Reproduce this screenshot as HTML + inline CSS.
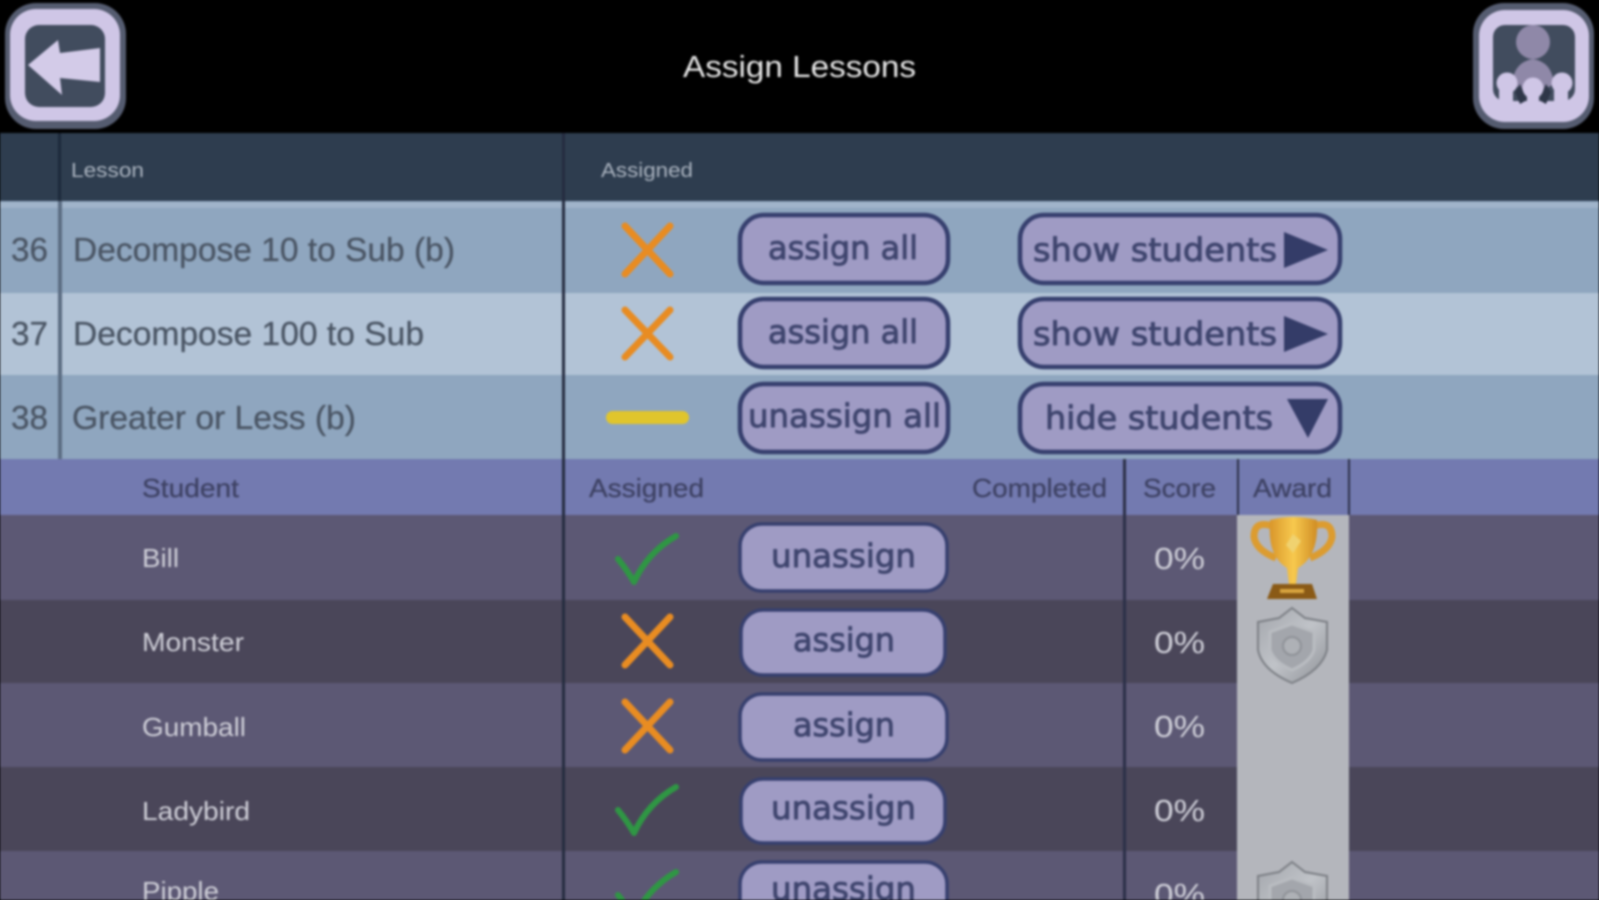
<!DOCTYPE html>
<html lang="en"><head><meta charset="utf-8"><title>Assign Lessons</title>
<style>
html,body{margin:0;padding:0;background:#000;width:1599px;height:900px;overflow:hidden}
svg{display:block;filter:blur(1.1px)}
text{font-family:"Liberation Sans",sans-serif}
.r{font-size:33px;fill:#4a5564;stroke:#4a5564;stroke-width:.3}
.sh{font-size:26px;fill:#3e4264;stroke:#3e4264;stroke-width:.3}
.s{font-size:26px;fill:#cfcfd8}
.p{font-size:31px;fill:#cfcfd8}
.b{font-family:"DejaVu Sans",sans-serif;font-size:32px;fill:#3f456e;stroke:#3f456e;stroke-width:.9}
.btn{fill:#9f9bc4;stroke:#363f6e;stroke-width:4.5}
.sb{fill:#9f9bc4;stroke:#363f6e;stroke-width:3.5}
.x{fill:none;stroke:#e88c22;stroke-width:7;stroke-linecap:round}
.c{fill:none;stroke:#2f9644;stroke-linecap:round;stroke-linejoin:round;stroke-width:6}
</style></head><body>
<svg xmlns="http://www.w3.org/2000/svg" width="1599" height="900" viewBox="0 0 1599 900">
<defs>
<linearGradient id="gold" x1="0" x2="1" y1="0" y2="0"><stop offset="0" stop-color="#d9962a"/><stop offset=".5" stop-color="#f7c94e"/><stop offset="1" stop-color="#d08d24"/></linearGradient>
<linearGradient id="sil" x1="0" x2="1" y1="0" y2="1"><stop offset="0" stop-color="#a3a6ac"/><stop offset=".5" stop-color="#c0c3c8"/><stop offset="1" stop-color="#8f9298"/></linearGradient>
<g id="shield"><path d="M1292 608 L1305 618 L1327 622 L1327 650 Q1322 670 1292 683 Q1262 670 1258 650 L1258 622 L1279 618 Z" fill="url(#sil)" stroke="#7d8086" stroke-width="2"/><path d="M1292 624 L1314 632 L1314 650 Q1310 662 1292 670 Q1274 662 1270 650 L1270 632 Z" fill="#a3a6ac" stroke="#b9bcc1" stroke-width="3"/><circle cx="1292" cy="646" r="9" fill="#aeb1b6" stroke="#8f9298" stroke-width="2"/></g>
</defs>
<rect width="1599" height="900" fill="#000"/>

<!-- top buttons -->
<rect x="5" y="3" width="121" height="126" rx="31" fill="#555c70"/>
<rect x="10" y="9" width="110" height="112" rx="26" fill="#cfc6e6"/>
<rect x="25" y="25" width="80" height="82" rx="14" fill="#414c5e"/>
<path d="M28 65 L58 40 L60 53 L100 48 L100 82 L60 78 L62 95 Z" fill="#d3cbe8"/>

<rect x="1473" y="3" width="121" height="126" rx="31" fill="#555c70"/>
<rect x="1479" y="10" width="110" height="112" rx="26" fill="#cfc6e6"/>
<rect x="1493" y="25" width="82" height="76" rx="12" fill="#414c5e"/>
<circle cx="1533" cy="42" r="17" fill="#8f88a8"/>
<path d="M1512 84 Q1514 62 1533 59 Q1552 62 1554 84 L1540 92 L1526 92 Z" fill="#8f88a8"/>
<path d="M1515 92 L1520 84 L1527 100 L1520 104 Z" fill="#2e3648"/>
<path d="M1551 92 L1546 84 L1539 100 L1546 104 Z" fill="#2e3648"/>
<circle cx="1507" cy="83" r="10.5" fill="#cfc6e6"/><circle cx="1533" cy="88" r="10.5" fill="#cfc6e6"/><circle cx="1562" cy="83" r="10.5" fill="#cfc6e6"/>
<rect x="1499" y="86" width="14" height="18" fill="#cfc6e6"/>
<rect x="1527" y="90" width="12" height="14" fill="#cfc6e6"/>
<rect x="1554" y="86" width="14" height="18" fill="#cfc6e6"/>

<text x="683" y="77" font-size="31" fill="#e6e6e6" textLength="233" lengthAdjust="spacingAndGlyphs">Assign Lessons</text>

<!-- table header -->
<rect x="0" y="133" width="1599" height="68" fill="#2e3d4f"/>
<text x="71" y="177" font-size="20" fill="#aab3bf" textLength="73" lengthAdjust="spacingAndGlyphs">Lesson</text>
<text x="601" y="177" font-size="20" fill="#aab3bf" textLength="92" lengthAdjust="spacingAndGlyphs">Assigned</text>

<!-- lesson rows -->
<rect x="0" y="201" width="1599" height="92" fill="#8fa6bf"/>
<rect x="0" y="202" width="1599" height="6" fill="#a0b4ca"/>
<rect x="0" y="293" width="1599" height="82" fill="#b2c3d6"/>
<rect x="0" y="375" width="1599" height="84" fill="#8fa6bf"/>

<!-- student header -->
<rect x="0" y="459" width="1599" height="56" fill="#737ab0"/>

<!-- student rows -->
<rect x="0" y="515" width="1599" height="85" fill="#5c5874"/>
<rect x="0" y="600" width="1599" height="83" fill="#4a4659"/>
<rect x="0" y="683" width="1599" height="84" fill="#5c5874"/>
<rect x="0" y="767" width="1599" height="84" fill="#4a4659"/>
<rect x="0" y="851" width="1599" height="49" fill="#5c5874"/>
<rect x="1237" y="515" width="112" height="385" fill="#b4b6bc"/>

<!-- dividers -->
<rect x="58" y="133" width="3" height="68" fill="#1d2a3a"/>
<rect x="58" y="201" width="4" height="258" fill="#5c6d83"/>
<rect x="562" y="133" width="3" height="767" fill="#252c40"/>
<rect x="1123" y="459" width="3" height="441" fill="#2c3048"/>
<rect x="1237" y="459" width="2" height="56" fill="#2c3048"/>
<rect x="1348" y="459" width="2" height="56" fill="#2c3048"/>

<!-- lesson text -->
<text class="r" x="11" y="261" textLength="37" lengthAdjust="spacingAndGlyphs">36</text>
<text class="r" x="73" y="261" textLength="382" lengthAdjust="spacingAndGlyphs">Decompose 10 to Sub (b)</text>
<text class="r" x="11" y="345" textLength="37" lengthAdjust="spacingAndGlyphs">37</text>
<text class="r" x="73" y="345" textLength="351" lengthAdjust="spacingAndGlyphs">Decompose 100 to Sub</text>
<text class="r" x="11" y="429" textLength="37" lengthAdjust="spacingAndGlyphs">38</text>
<text class="r" x="72" y="429" textLength="284" lengthAdjust="spacingAndGlyphs">Greater or Less (b)</text>

<!-- lesson status -->
<path class="x" d="M625 226 L670 274 M670 226 L625 274"/>
<path class="x" d="M625 310 L670 357 M670 310 L625 357"/>
<rect x="606" y="411" width="83" height="13" rx="6.5" fill="#e0c52c"/>

<!-- lesson buttons -->
<rect class="btn" x="740" y="215" width="208" height="68" rx="24"/>
<rect class="btn" x="740" y="299" width="208" height="68" rx="24"/>
<rect class="btn" x="740" y="384" width="208" height="68" rx="24"/>
<text class="b" x="768" y="259" textLength="150" lengthAdjust="spacingAndGlyphs">assign all</text>
<text class="b" x="768" y="343" textLength="150" lengthAdjust="spacingAndGlyphs">assign all</text>
<text class="b" x="748" y="427" textLength="193" lengthAdjust="spacingAndGlyphs">unassign all</text>

<rect class="btn" x="1020" y="215" width="320" height="68" rx="24"/>
<rect class="btn" x="1020" y="299" width="320" height="68" rx="24"/>
<rect class="btn" x="1020" y="384" width="320" height="68" rx="24"/>
<text class="b" x="1033" y="261" textLength="244" lengthAdjust="spacingAndGlyphs">show students</text>
<text class="b" x="1033" y="345" textLength="244" lengthAdjust="spacingAndGlyphs">show students</text>
<text class="b" x="1045" y="429" textLength="228" lengthAdjust="spacingAndGlyphs">hide students</text>
<path d="M1284 232 L1328 250 L1284 268 Z" fill="#343c68"/>
<path d="M1284 316 L1328 334 L1284 352 Z" fill="#343c68"/>
<path d="M1287 399 L1328 399 L1308 438 Z" fill="#343c68"/>

<!-- student header labels -->
<text class="sh" x="142" y="497" textLength="97" lengthAdjust="spacingAndGlyphs">Student</text>
<text class="sh" x="589" y="497" textLength="115" lengthAdjust="spacingAndGlyphs">Assigned</text>
<text class="sh" x="972" y="497" textLength="135" lengthAdjust="spacingAndGlyphs">Completed</text>
<text class="sh" x="1143" y="497" textLength="73" lengthAdjust="spacingAndGlyphs">Score</text>
<text class="sh" x="1253" y="497" textLength="79" lengthAdjust="spacingAndGlyphs">Award</text>

<!-- student names -->
<text class="s" x="142" y="567" textLength="37" lengthAdjust="spacingAndGlyphs">Bill</text>
<text class="s" x="142" y="651" textLength="102" lengthAdjust="spacingAndGlyphs">Monster</text>
<text class="s" x="142" y="736" textLength="104" lengthAdjust="spacingAndGlyphs">Gumball</text>
<text class="s" x="142" y="820" textLength="108" lengthAdjust="spacingAndGlyphs">Ladybird</text>
<text class="s" x="142" y="900" textLength="77" lengthAdjust="spacingAndGlyphs">Pipple</text>

<!-- student status -->
<path class="c" d="M618 559 Q627 570 634 582 Q648 552 676 536"/>
<path class="x" d="M625 617 L670 665 M670 617 L625 665"/>
<path class="x" d="M625 702 L670 750 M670 702 L625 750"/>
<path class="c" d="M618 810 Q627 821 634 833 Q648 803 676 787"/>
<path class="c" d="M618 895 Q627 906 634 918 Q648 888 676 872"/>

<!-- student buttons -->
<rect class="sb" x="740" y="524" width="207" height="67" rx="22"/>
<rect class="sb" x="741" y="610" width="204" height="65" rx="22"/>
<rect class="sb" x="740" y="694" width="207" height="66" rx="22"/>
<rect class="sb" x="741" y="779" width="204" height="64" rx="22"/>
<rect class="sb" x="740" y="862" width="207" height="68" rx="22"/>
<text class="b" x="771" y="567" textLength="145" lengthAdjust="spacingAndGlyphs">unassign</text>
<text class="b" x="793" y="651" textLength="102" lengthAdjust="spacingAndGlyphs">assign</text>
<text class="b" x="793" y="736" textLength="102" lengthAdjust="spacingAndGlyphs">assign</text>
<text class="b" x="771" y="819" textLength="145" lengthAdjust="spacingAndGlyphs">unassign</text>
<text class="b" x="771" y="900" textLength="145" lengthAdjust="spacingAndGlyphs">unassign</text>

<!-- score -->
<text class="p" x="1154" y="569" textLength="51" lengthAdjust="spacingAndGlyphs">0%</text>
<text class="p" x="1154" y="653" textLength="51" lengthAdjust="spacingAndGlyphs">0%</text>
<text class="p" x="1154" y="737" textLength="51" lengthAdjust="spacingAndGlyphs">0%</text>
<text class="p" x="1154" y="821" textLength="51" lengthAdjust="spacingAndGlyphs">0%</text>
<text class="p" x="1154" y="905" textLength="51" lengthAdjust="spacingAndGlyphs">0%</text>

<!-- trophy -->
<path d="M1272 526 Q1254 520 1254 537 Q1256 550 1276 558" fill="none" stroke="#dc9c30" stroke-width="7"/>
<path d="M1314 526 Q1332 520 1332 537 Q1330 550 1310 558" fill="none" stroke="#dc9c30" stroke-width="7"/>
<path d="M1270 520 Q1293 514 1317 520 Q1319 556 1298 568 L1296 584 L1289 584 L1287 568 Q1267 556 1270 520 Z" fill="url(#gold)"/>
<path d="M1293 534 L1301 541 L1293 553 L1286 545 Z" fill="#f0d270"/>
<path d="M1273 584 L1312 584 L1317 599 L1267 599 Z" fill="#8a5a16"/>
<rect x="1280" y="589" width="24" height="4" fill="#d9a640"/>

<!-- shields -->
<use href="#shield"/>
<use href="#shield" y="254"/>
</svg>
</body></html>
